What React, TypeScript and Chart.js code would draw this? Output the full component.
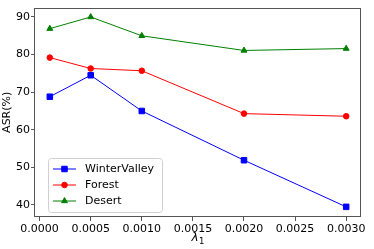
import React, { useEffect, useRef } from "react";
import { Chart, registerables } from "chart.js";
Chart.register(...registerables);

const lambdas = [0.0001, 0.0005, 0.001, 0.002, 0.003];
const winterValley = [68.8, 74.5, 65.0, 51.9, 39.5];
const forest = [79.2, 76.3, 75.7, 64.3, 63.6];
const desert = [86.9, 90.0, 85.0, 81.1, 81.6];
const xTicks = [0, 0.0005, 0.001, 0.0015, 0.002, 0.0025, 0.003];
const yTicks = [40, 50, 60, 70, 80, 90];
const seriesNames = ["WinterValley", "Forest", "Desert"];
const seriesColors = ["#0000ff", "#ff0000", "#008000"];
const seriesMarkers = ["rect", "circle", "triangle"];
const markerRadius = [3.9, 2.8, 3.4];
const xTitleMain = "λ";
const xTitleSub = "1";

const FONT = "DejaVu Sans";

function drawMarker(ctx: CanvasRenderingContext2D, style: string, r: number, x: number, y: number) {
  ctx.beginPath();
  if (style === "rect") {
    const s = Math.SQRT1_2 * r;
    ctx.rect(x - s, y - s, 2 * s, 2 * s);
  } else if (style === "circle") {
    ctx.arc(x, y, r, 0, Math.PI * 2);
  } else {
    const a = (Math.PI * 2) / 3;
    ctx.moveTo(x, y - r);
    ctx.lineTo(x + Math.sin(a) * r, y - Math.cos(a) * r);
    ctx.lineTo(x + Math.sin(2 * a) * r, y - Math.cos(2 * a) * r);
    ctx.closePath();
  }
  ctx.fill();
  ctx.stroke();
}

const framePlugin = {
  id: "frame",
  afterDraw(chart: any) {
    const { ctx, chartArea: a } = chart;
    ctx.save();
    ctx.strokeStyle = "#555";
    ctx.lineWidth = 1;
    ctx.strokeRect(Math.round(a.left) - 0.5, Math.round(a.top) + 0.5, Math.round(a.right - a.left), Math.round(a.bottom - a.top) - 1);
    // x title: italic lambda with subscript 1
    const cx = (a.left + a.right) / 2;
    ctx.fillStyle = "#000";
    ctx.textBaseline = "alphabetic";
    ctx.font = `italic 12px "${FONT}"`;
    const w1 = ctx.measureText(xTitleMain).width;
    ctx.font = `8.5px "${FONT}"`;
    const w2 = ctx.measureText(xTitleSub).width;
    const start = cx - (w1 + w2 + 0.5) / 2;
    ctx.font = `italic 12px "${FONT}"`;
    ctx.textAlign = "left";
    ctx.fillText(xTitleMain, start, 241);
    ctx.font = `8.5px "${FONT}"`;
    ctx.fillText(xTitleSub, start + w1 + 0.5, 243.5);
    ctx.restore();
  },
};

const legendPlugin = {
  id: "innerLegend",
  afterDraw(chart: any) {
    const { ctx, chartArea: a } = chart;
    const x0 = a.left + 13;
    const y0 = a.bottom - 59;
    const w = 114;
    const h = 54;
    ctx.save();
    ctx.fillStyle = "rgba(255,255,255,0.85)";
    ctx.strokeStyle = "#d0d0d0";
    ctx.lineWidth = 1;
    ctx.beginPath();
    if ((ctx as any).roundRect) (ctx as any).roundRect(x0 + 0.5, y0 + 0.5, w, h, 3);
    else ctx.rect(x0 + 0.5, y0 + 0.5, w, h);
    ctx.fill();
    ctx.stroke();
    ctx.font = `11px "${FONT}"`;
    ctx.textBaseline = "middle";
    ctx.textAlign = "left";
    chart.data.datasets.forEach((ds: any, i: number) => {
      const y = y0 + 11 + i * 16;
      ctx.strokeStyle = ds.borderColor;
      ctx.lineWidth = 1;
      ctx.beginPath();
      ctx.moveTo(x0 + 5, y);
      ctx.lineTo(x0 + 28, y);
      ctx.stroke();
      ctx.fillStyle = ds.backgroundColor;
      ctx.strokeStyle = ds.borderColor;
      drawMarker(ctx, ds.pointStyle, ds.pointRadius, x0 + 16.5, y);
      ctx.fillStyle = "#000";
      ctx.fillText(ds.label, x0 + 37, y + 0.5);
    });
    ctx.restore();
  },
};

export default function App() {
  const ref = useRef<HTMLCanvasElement>(null);
  useEffect(() => {
    document.body.style.margin = "0";
    const datasets = [winterValley, forest, desert].map((vals, i) => ({
      label: seriesNames[i],
      data: lambdas.map((x, j) => ({ x, y: vals[j] })),
      showLine: true,
      borderColor: seriesColors[i],
      backgroundColor: seriesColors[i],
      borderWidth: 1,
      pointStyle: seriesMarkers[i],
      pointRadius: markerRadius[i],
      pointBorderWidth: 1,
    }));
    const chart = new Chart(ref.current!, {
      type: "scatter",
      data: { datasets } as any,
      options: {
        animation: false,
        responsive: false,
        devicePixelRatio: 1,
        layout: { padding: { top: 4, right: 13, left: 0, bottom: 0 } },
        plugins: { legend: { display: false }, tooltip: { enabled: false } },
        scales: {
          x: {
            type: "linear",
            min: -0.000045,
            max: 0.003145,
            afterBuildTicks: (s: any) => {
              s.ticks = xTicks.map((v) => ({ value: v }));
            },
            afterFit: (s: any) => {
              s.height = 32;
            },
            ticks: {
              color: "#000",
              font: { family: FONT, size: 11 },
              padding: 2,
              maxRotation: 0,
              autoSkip: false,
              callback: (v: any) => Number(v).toFixed(4),
            },
            grid: { drawOnChartArea: false, drawTicks: true, tickLength: 4, color: "#555" },
            border: { display: false },
            title: { display: false },
          },
          y: {
            type: "linear",
            min: 36.8,
            max: 92.5,
            afterBuildTicks: (s: any) => {
              s.ticks = yTicks.map((v) => ({ value: v }));
            },
            afterFit: (s: any) => {
              s.width = 35;
            },
            ticks: {
              color: "#000",
              font: { family: FONT, size: 11 },
              padding: 1,
              callback: (v: any) => String(v),
            },
            grid: { drawOnChartArea: false, drawTicks: true, tickLength: 4, color: "#555" },
            border: { display: false },
            title: {
              display: true,
              text: "ASR(%)",
              color: "#000",
              font: { family: FONT, size: 11 },
              padding: { top: 1, bottom: 0 },
            },
          },
        },
      },
      plugins: [framePlugin, legendPlugin],
    } as any);
    return () => chart.destroy();
  }, []);
  return (
    <div style={{ position: "absolute", left: 0, top: 0, width: 374, height: 249 }}>
      <canvas ref={ref} width={374} height={249} style={{ width: 374, height: 249 }} />
    </div>
  );
}
